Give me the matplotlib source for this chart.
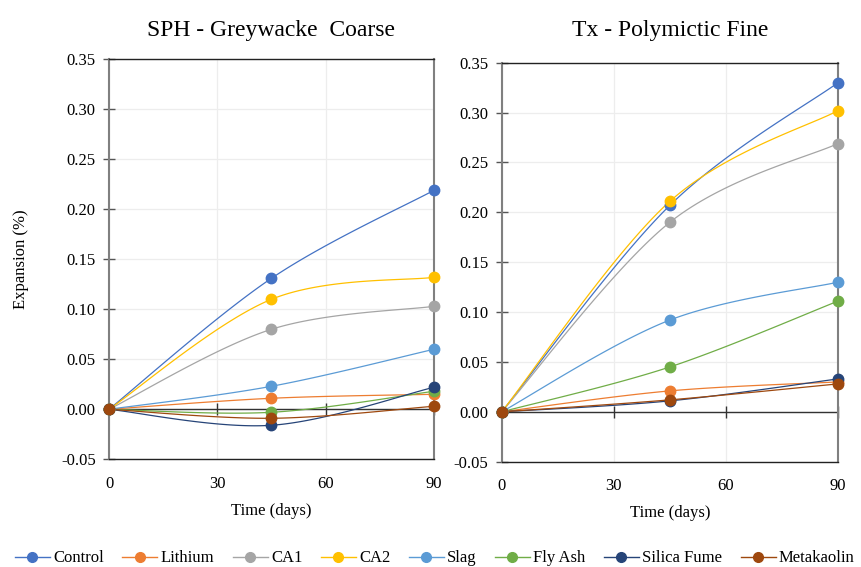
import numpy as np
import matplotlib
matplotlib.use("Agg")
import matplotlib.pyplot as plt
from matplotlib.lines import Line2D

plt.rcParams['font.family'] = 'serif'
plt.rcParams['font.serif'] = ['Liberation Serif', 'DejaVu Serif']

days = [0, 45, 90]
series_names = ["Control", "Lithium", "CA1", "CA2", "Slag", "Fly Ash", "Silica Fume", "Metakaolin"]
colors = ["#4472C4", "#ED7D31", "#A5A5A5", "#FFC000", "#5B9BD5", "#70AD47", "#264478", "#9E480E"]

sph_control = [0.0, 0.131, 0.219]
sph_lithium = [0.0, 0.011, 0.015]
sph_ca1 = [0.0, 0.080, 0.103]
sph_ca2 = [0.0, 0.110, 0.132]
sph_slag = [0.0, 0.023, 0.060]
sph_flyash = [0.0, -0.003, 0.018]
sph_silica = [0.0, -0.016, 0.022]
sph_meta = [0.0, -0.009, 0.003]

tx_control = [0.0, 0.207, 0.330]
tx_lithium = [0.0, 0.021, 0.030]
tx_ca1 = [0.0, 0.190, 0.269]
tx_ca2 = [0.0, 0.211, 0.302]
tx_slag = [0.0, 0.092, 0.130]
tx_flyash = [0.0, 0.045, 0.111]
tx_silica = [0.0, 0.011, 0.033]
tx_meta = [0.0, 0.012, 0.028]

sph = [sph_control, sph_lithium, sph_ca1, sph_ca2, sph_slag, sph_flyash, sph_silica, sph_meta]
tx = [tx_control, tx_lithium, tx_ca1, tx_ca2, tx_slag, tx_flyash, tx_silica, tx_meta]

xticks = [0, 30, 60, 90]
yticks = [-0.05, 0.0, 0.05, 0.10, 0.15, 0.20, 0.25, 0.30, 0.35]


def smooth(x, y, n=60):
    x = np.asarray(x, float)
    y = np.asarray(y, float)
    px = np.concatenate([[x[0]], x, [x[-1]]])
    py = np.concatenate([[y[0]], y, [y[-1]]])
    xs, ys = [], []
    for i in range(1, len(px) - 2):
        p0, p1, p2, p3 = (np.array([px[j], py[j]]) for j in (i - 1, i, i + 1, i + 2))
        c1 = p1 + (p2 - p0) / 6.0
        c2 = p2 - (p3 - p1) / 6.0
        t = np.linspace(0, 1, n)[:, None]
        b = (1 - t) ** 3 * p1 + 3 * (1 - t) ** 2 * t * c1 + 3 * (1 - t) * t ** 2 * c2 + t ** 3 * p2
        xs.append(b[:, 0]); ys.append(b[:, 1])
    return np.concatenate(xs), np.concatenate(ys)


fig = plt.figure(figsize=(8.61, 5.67), dpi=100)
ax1 = fig.add_axes([0.1266, 0.19, 0.504 - 0.1266, 0.8954 - 0.19])
ax2 = fig.add_axes([0.5827, 0.1857, 0.9733 - 0.5827, 0.8894 - 0.1857])

titles = ["SPH - Greywacke  Coarse", "Tx - Polymictic Fine"]
title_pads = [17, 19]

for ax, data, title, tpad in zip([ax1, ax2], [sph, tx], titles, title_pads):
    ax.set_xlim(0, 90)
    ax.set_ylim(-0.05, 0.35)
    ax.set_xticks(xticks)
    ax.set_yticks(yticks)
    ax.set_yticklabels([f"{v:.2f}" for v in yticks])
    ax.grid(True, color="#EDEDED", linewidth=0.9)
    ax.set_axisbelow(True)
    ax.tick_params(axis='x', length=0, labelsize=12, pad=12)
    ax.tick_params(axis='y', direction='inout', length=9, width=1, color="#555555", labelsize=12, pad=5)
    for s in ['left', 'right']:
        ax.spines[s].set_color("#808080")
        ax.spines[s].set_linewidth(1.5)
    for s in ['top', 'bottom']:
        ax.spines[s].set_color("#222222")
        ax.spines[s].set_linewidth(1.0)
    # horizontal axis line crossing at zero with cross tick marks
    ax.axhline(0, color="#333333", lw=1.0, zorder=2)
    ax.plot(xticks, [0] * len(xticks), linestyle='none', marker='|', ms=9, mew=1.0,
            color="#333333", zorder=2, clip_on=False)
    for vals, c in zip(data, colors):
        sx, sy = smooth(days, vals)
        ax.plot(sx, sy, color=c, lw=0.9, clip_on=False, zorder=3)
        ax.plot(days, vals, 'o', color=c, ms=7.5, clip_on=False, zorder=4)
    ax.set_title(title, fontsize=17, pad=tpad)
    ax.set_xlabel("Time (days)", fontsize=12, labelpad=8)

ax1.set_ylabel("Expansion (%)", fontsize=12, labelpad=23)

handles = [Line2D([0], [0], color=c, lw=1, marker='o', ms=7) for c in colors]
fig.legend(handles, series_names, loc='center', bbox_to_anchor=(0.505, 0.015), ncol=8,
           frameon=False, fontsize=12, handlelength=2.1, handletextpad=0.2, columnspacing=1.1)

fig.savefig("out.png", dpi=100)
